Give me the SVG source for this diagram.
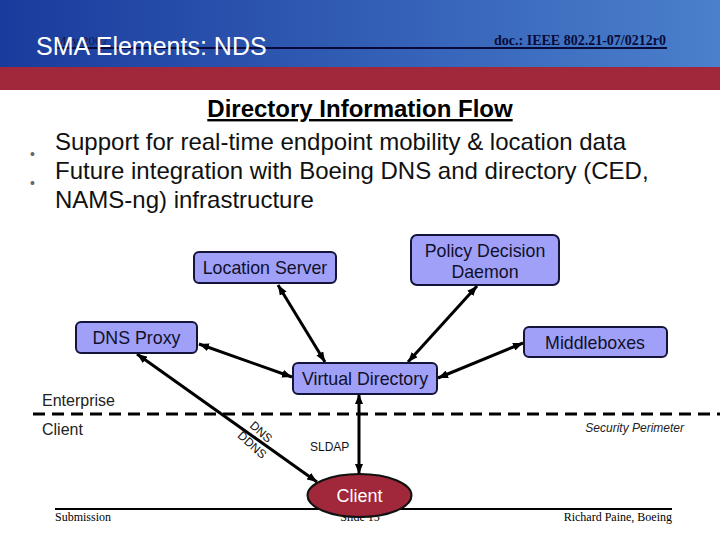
<svg xmlns="http://www.w3.org/2000/svg" width="720" height="540" viewBox="0 0 720 540">
  <defs>
    <linearGradient id="hdr" x1="0" y1="0" x2="1" y2="0">
      <stop offset="0" stop-color="#1a3b9d"/>
      <stop offset="1" stop-color="#4a80cc"/>
    </linearGradient>
    <marker id="ah" viewBox="0 0 10 8" refX="10" refY="4" markerWidth="10" markerHeight="8" markerUnits="userSpaceOnUse" orient="auto-start-reverse">
      <path d="M0,0 L10,4 L0,8 z" fill="#000"/>
    </marker>
    <style>
      .box { fill: #a0a0f8; stroke: #14143a; stroke-width: 2; }
      .bt { font-family: "Liberation Sans", Arial, sans-serif; font-size: 17.8px; fill: #10102a; text-anchor: middle; }
      .conn { stroke: #000; stroke-width: 3; fill: none; marker-start: url(#ah); marker-end: url(#ah); }
      .sans { font-family: "Liberation Sans", Arial, sans-serif; }
      .serif { font-family: "Liberation Serif", "Times New Roman", serif; }
      .bul { font-family: "Liberation Sans", Arial, sans-serif; font-size: 24px; fill: #111; }
      .dot { font-family: "Liberation Sans", Arial, sans-serif; font-size: 14px; fill: #666; }
    </style>
  </defs>

  <!-- header -->
  <rect x="0" y="0" width="720" height="67" fill="url(#hdr)"/>
  <rect x="0" y="67" width="720" height="23" fill="#a0283a"/>
  <rect x="0" y="90" width="720" height="450" fill="#fff"/>
  <line x1="55" y1="48" x2="667" y2="48" stroke="#0a0a3a" stroke-width="2"/>
  <text class="serif" x="55" y="45" font-size="13" fill="#1a1a40">May 2007</text>
  <text class="sans" x="36" y="55" font-size="25" fill="#fff">SMA Elements: NDS</text>
  <text class="serif" x="666" y="45" font-size="14" font-weight="bold" fill="#0a0a3a" text-anchor="end" textLength="172" lengthAdjust="spacingAndGlyphs">doc.: IEEE 802.21-07/0212r0</text>

  <!-- body text -->
  <text class="sans" x="360" y="117" font-size="24" font-weight="bold" fill="#000" text-anchor="middle" text-decoration="underline">Directory Information Flow</text>
  <text class="dot" x="30" y="159">•</text>
  <text class="bul" x="55" y="150">Support for real-time endpoint mobility &amp; location data</text>
  <text class="dot" x="30" y="188">•</text>
  <text class="bul" x="55" y="179">Future integration with Boeing DNS and directory (CED,</text>
  <text class="bul" x="55" y="208">NAMS-ng) infrastructure</text>

  <!-- zones -->
  <line x1="33" y1="414" x2="720" y2="414" stroke="#000" stroke-width="3" stroke-dasharray="12 7"/>
  <text class="sans" x="42" y="406" font-size="16" fill="#222">Enterprise</text>
  <text class="sans" x="42" y="435" font-size="16" fill="#222">Client</text>
  <text class="sans" x="684" y="432" font-size="12" font-style="italic" fill="#222" text-anchor="end">Security Perimeter</text>

  <!-- footer -->
  <line x1="55" y1="509" x2="672" y2="509" stroke="#000" stroke-width="2"/>
  <text class="serif" x="55" y="521" font-size="12" fill="#000">Submission</text>
  <text class="serif" x="360" y="521" font-size="12" fill="#000" text-anchor="middle">Slide 15</text>
  <text class="serif" x="672" y="521" font-size="12" fill="#000" text-anchor="end">Richard Paine, Boeing</text>

  <!-- connectors -->
  <g id="connectors">
    <line class="conn" x1="278" y1="285" x2="325" y2="362"/>
    <line class="conn" x1="477" y1="286" x2="408" y2="362"/>
    <line class="conn" x1="199" y1="344" x2="292" y2="377"/>
    <line class="conn" x1="523" y1="343" x2="438" y2="378"/>
    <line class="conn" x1="137" y1="354" x2="317" y2="482"/>
    <line class="conn" x1="359" y1="394" x2="359" y2="474"/>
    <text class="sans" font-size="12" fill="#111" text-anchor="middle" transform="translate(261,432) rotate(42)" y="4">DNS</text>
    <text class="sans" font-size="12" fill="#111" text-anchor="middle" transform="translate(252,445) rotate(42)" y="4">DDNS</text>
    <text class="sans" x="310" y="451" font-size="12" fill="#111">SLDAP</text>
  </g>

  <!-- nodes -->
  <g id="location-server">
    <rect class="box" x="194" y="252" width="142" height="31" rx="5"/>
    <text class="bt" x="265" y="274">Location Server</text>
  </g>
  <g id="policy-decision-daemon">
    <rect class="box" x="411" y="235" width="148" height="50" rx="6"/>
    <text class="bt" x="485" y="257">Policy Decision</text>
    <text class="bt" x="485" y="278">Daemon</text>
  </g>
  <g id="dns-proxy">
    <rect class="box" x="76" y="322" width="121" height="31" rx="5"/>
    <text class="bt" x="136.5" y="344">DNS Proxy</text>
  </g>
  <g id="middleboxes">
    <rect class="box" x="524" y="327" width="143" height="30" rx="5"/>
    <text class="bt" x="595" y="349">Middleboxes</text>
  </g>
  <g id="virtual-directory">
    <rect class="box" x="293" y="363" width="144" height="31" rx="5"/>
    <text class="bt" x="365" y="385">Virtual Directory</text>
  </g>
  <g id="client">
    <ellipse cx="359.5" cy="495.5" rx="52" ry="21.5" fill="#a0283a" stroke="#111" stroke-width="2"/>
    <text class="sans" x="359.5" y="502" font-size="18" fill="#fff" text-anchor="middle">Client</text>
  </g>
</svg>
